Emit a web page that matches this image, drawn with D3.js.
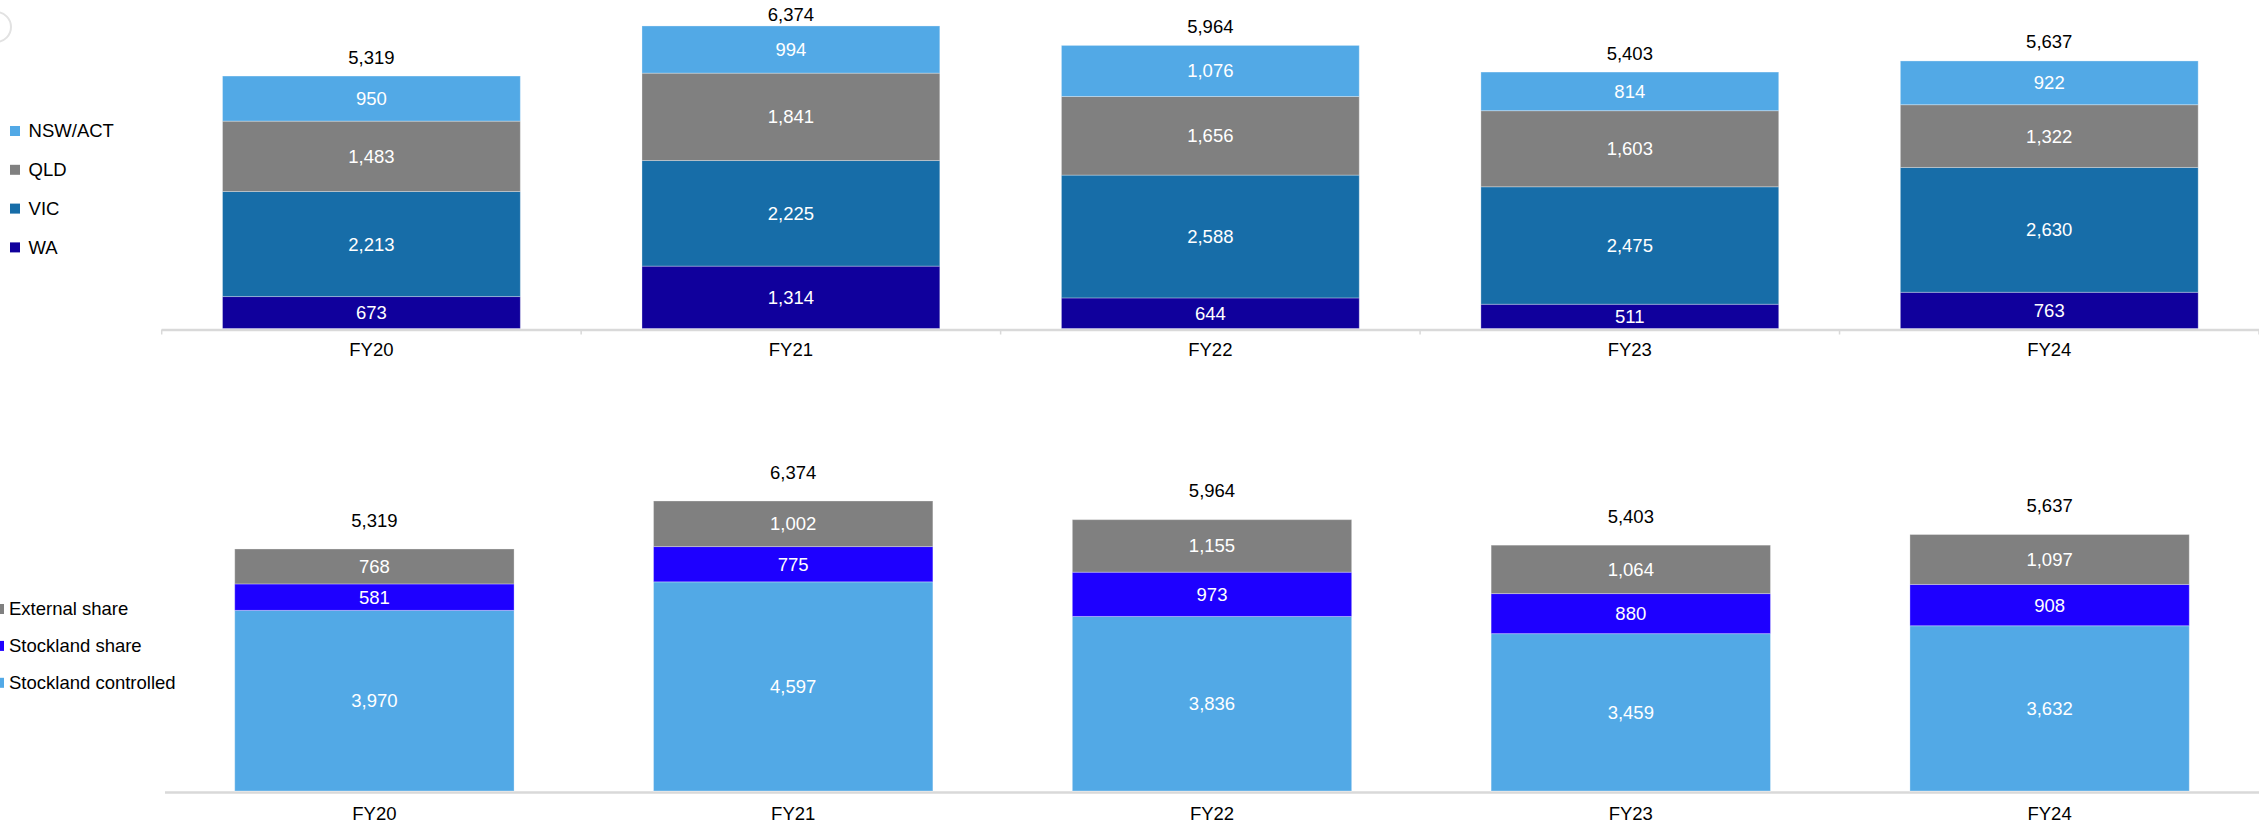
<!DOCTYPE html>
<html>
<head>
<meta charset="utf-8">
<script src="https://cdn.jsdelivr.net/npm/d3@7"></script>
<style>
  html, body { margin: 0; padding: 0; background: #fff; }
  svg { display: block; font-family: "Liberation Sans", Arial, sans-serif; }
</style>
</head>
<body>
<svg id="chart" width="2259" height="826"></svg>
<script>
// Financial years shared by both panels
const years = ["FY20", "FY21", "FY22", "FY23", "FY24"];

// Upper panel: lots by state (stacked bottom to top)
const stateNames = ["WA", "VIC", "QLD", "NSW/ACT"];
const waValues = [673, 1314, 644, 511, 763];
const vicValues = [2213, 2225, 2588, 2475, 2630];
const qldValues = [1483, 1841, 1656, 1603, 1322];
const nswValues = [950, 994, 1076, 814, 922];
const stateColors = ["#10009c", "#176da8", "#808080", "#52a9e6"];

// Lower panel: ownership split (stacked bottom to top)
const ownerNames = ["Stockland controlled", "Stockland share", "External share"];
const controlledValues = [3970, 4597, 3836, 3459, 3632];
const shareValues = [581, 775, 973, 880, 908];
const externalValues = [768, 1002, 1155, 1064, 1097];
const ownerColors = ["#52a9e6", "#1e00ff", "#808080"];

const fmt = d3.format(",");
const svg = d3.select("#chart");
const FONT = 18.5;

// faint corner ornament
svg.append("path")
  .attr("d", d3.arc()({innerRadius: 15, outerRadius: 15, startAngle: 0, endAngle: Math.PI}))
  .attr("transform", "translate(-4,27)")
  .attr("fill", "none")
  .attr("stroke", "#e2e2e2")
  .attr("stroke-width", 2);

function drawPanel(opts) {
  const { names, seriesValues, colors, xRange, inner, baseY, yTop, yMax,
          labelY, totalGap, totalMin, ticks, legend } = opts;

  const rows = years.map((yr, i) => {
    const r = { year: yr };
    names.forEach((n, k) => r[n] = seriesValues[k][i]);
    return r;
  });
  const totals = rows.map(r => d3.sum(names, n => r[n]));

  const x = d3.scaleBand().domain(years).range(xRange)
    .paddingInner(inner).paddingOuter(inner / 2);
  const y = d3.scaleLinear().domain([0, yMax]).range([baseY, yTop]);

  const stacked = d3.stack().keys(names)(rows);

  // axis line along the baseline
  const g = svg.append("g");
  g.append("line")
    .attr("x1", xRange[0]).attr("x2", xRange[1])
    .attr("y1", baseY + 1.5).attr("y2", baseY + 1.5)
    .attr("stroke", "#d9d9d9").attr("stroke-width", 2.5);

  if (ticks) {
    const step = x.step();
    const edges = d3.range(years.length + 1).map(i => xRange[0] + i * step);
    g.selectAll(".tick").data(edges).join("line")
      .attr("x1", d => d).attr("x2", d => d)
      .attr("y1", baseY + 1).attr("y2", baseY + 6)
      .attr("stroke", "#d9d9d9").attr("stroke-width", 1.5);
  }

  // stacked segments
  const layers = g.selectAll(".layer").data(stacked).join("g")
    .attr("fill", (d, i) => colors[i]);
  layers.selectAll("rect").data(d => d).join("rect")
    .attr("x", d => x(d.data.year))
    .attr("width", x.bandwidth())
    .attr("y", d => y(d[1]))
    .attr("height", d => y(d[0]) - y(d[1]))
    .attr("stroke", "rgba(255,255,255,0.3)")
    .attr("stroke-width", 1);

  // segment values
  layers.selectAll("text").data(d => d.map(v => ({ v, key: d.key }))).join("text")
    .attr("x", d => x(d.v.data.year) + x.bandwidth() / 2)
    .attr("y", d => (y(d.v[0]) + y(d.v[1])) / 2)
    .attr("dy", "0.35em")
    .attr("text-anchor", "middle")
    .attr("fill", "#fff")
    .attr("font-size", FONT)
    .text(d => fmt(d.v.data[d.key]));

  // totals above bars
  g.selectAll(".total").data(years).join("text")
    .attr("x", d => x(d) + x.bandwidth() / 2)
    .attr("y", (d, i) => Math.max(y(totals[i]) - totalGap, totalMin))
    .attr("dy", "0.35em")
    .attr("text-anchor", "middle")
    .attr("fill", "#000")
    .attr("font-size", FONT)
    .text((d, i) => fmt(totals[i]));

  // category labels
  g.selectAll(".cat").data(years).join("text")
    .attr("x", d => x(d) + x.bandwidth() / 2)
    .attr("y", labelY)
    .attr("dy", "0.35em")
    .attr("text-anchor", "middle")
    .attr("fill", "#000")
    .attr("font-size", FONT)
    .text(d => d);

  // legend, listed top of stack first
  const items = names.map((n, i) => ({ n, c: colors[i] })).reverse();
  const lg = g.selectAll(".lg").data(items).join("g")
    .attr("transform", (d, i) => `translate(${legend.x},${legend.y + i * legend.gap})`);
  lg.append("rect")
    .attr("x", 0).attr("y", -5).attr("width", 10).attr("height", 10)
    .attr("fill", d => d.c);
  lg.append("text")
    .attr("x", legend.tx).attr("dy", "0.35em")
    .attr("font-size", FONT).attr("fill", "#000")
    .text(d => d.n);
}

drawPanel({
  names: stateNames,
  seriesValues: [waValues, vicValues, qldValues, nswValues],
  colors: stateColors,
  xRange: [161.7, 2259],
  inner: 0.29,
  baseY: 328.5,
  yTop: 0,
  yMax: 6921,
  labelY: 350,
  totalGap: 19,
  totalMin: 15,
  ticks: true,
  legend: { x: 10, y: 131, gap: 38.8, tx: 18.6 }
});

drawPanel({
  names: ownerNames,
  seriesValues: [controlledValues, shareValues, externalValues],
  colors: ownerColors,
  xRange: [165, 2259],
  inner: 0.333,
  baseY: 791,
  yTop: 472.5,
  yMax: 7000,
  labelY: 814,
  totalGap: 28.7,
  totalMin: 0,
  ticks: false,
  legend: { x: -6, y: 609, gap: 36.9, tx: 15 }
});
</script>
</body>
</html>
